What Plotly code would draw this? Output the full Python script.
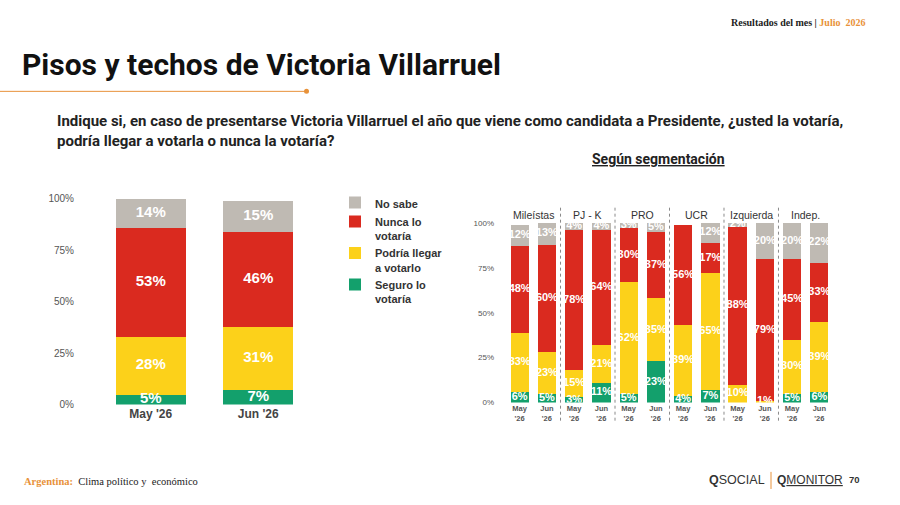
import plotly.graph_objects as go

# ---------------- DATA ----------------
left_cats = ["May '26", "Jun '26"]
left_seguro = [5, 7]
left_podria = [28, 31]
left_nunca = [53, 46]
left_nosabe = [14, 15]

segments = ["Mileístas", "PJ - K", "PRO", "UCR", "Izquierda", "Indep."]
months = ["May '26", "Jun '26"]
seg_seguro = [6, 5, 3, 11, 5, 23, 4, 7, 0, 0, 5, 6]
seg_podria = [33, 23, 15, 21, 62, 35, 39, 65, 10, 1, 30, 39]
seg_nunca = [48, 60, 78, 64, 30, 37, 56, 17, 88, 79, 45, 33]
seg_nosabe = [12, 13, 4, 4, 3, 5, 0, 12, 2, 20, 20, 22]

y_ticks = [0, 25, 50, 75, 100]
y_ticktext = ["0%", "25%", "50%", "75%", "100%"]

series_names = ["Seguro lo<br>votaría", "Podría llegar<br>a votarlo", "Nunca lo<br>votaría", "No sabe"]
colors = ["#13a06c", "#fcd11a", "#da2a1f", "#bfbab3"]

# ---------------- FIGURE ----------------
fig = go.Figure()
W, H = 900, 505
OFF, HE = 6.0, 493.0


def py(t):
    return 1 - (t - OFF) / HE


SANS = "Roboto, Liberation Sans, sans-serif"

left_series = [left_seguro, left_podria, left_nunca, left_nosabe]
for name, vals, col in zip(series_names, left_series, colors):
    fig.add_trace(go.Bar(x=left_cats, y=vals, name="<b>" + name + "</b>", marker=dict(color=col, line=dict(width=0)),
                         width=0.65, xaxis="x", yaxis="y", hoverinfo="skip"))

base = [0] * len(left_cats)
for vals in left_series:
    mids = [b + v / 2 for b, v in zip(base, vals)]
    fig.add_trace(go.Scatter(x=left_cats, y=mids, mode="text", text=[f"{v}%" for v in vals],
                             textfont=dict(color="white", size=15, family="Liberation Sans", weight="bold"),
                             showlegend=False, xaxis="x", yaxis="y", hoverinfo="skip"))
    base = [b + v for b, v in zip(base, vals)]

right_cats = [f"{s}|{m}" for s in segments for m in months]
right_ticktext = ["May<br>'26" if m.startswith("May") else "Jun<br>'26" for s in segments for m in months]
right_series = [seg_seguro, seg_podria, seg_nunca, seg_nosabe]
for name, vals, col in zip(series_names, right_series, colors):
    fig.add_trace(go.Bar(x=right_cats, y=vals, name=name, marker=dict(color=col, line=dict(width=0)),
                         width=0.67, xaxis="x2", yaxis="y2", showlegend=False, hoverinfo="skip"))

base = [0] * len(right_cats)
for vals, col in zip(right_series, colors):
    mids = [b + v / 2 for b, v in zip(base, vals)]
    fig.add_trace(go.Scatter(x=right_cats, y=mids, mode="text",
                             text=[f"{v}%" if v > 0 else "" for v in vals],
                             textfont=dict(color="white", size=11, family="Liberation Sans", weight="bold"),
                             showlegend=False, xaxis="x2", yaxis="y2", hoverinfo="skip"))
    base = [b + v for b, v in zip(base, vals)]

fig.update_layout(
    width=W, height=H, margin=dict(l=0, r=0, t=0, b=0),
    paper_bgcolor="white", plot_bgcolor="white",
    barmode="stack", bargap=0,
    font=dict(family="Liberation Sans", color="#333"),
    xaxis=dict(domain=[97 / W, 312 / W], showgrid=False, zeroline=False, showline=False, ticks="",
               tickfont=dict(size=12, color="#444", weight="bold"), anchor="y", fixedrange=True),
    yaxis=dict(domain=[py(404), py(199)], range=[0, 100], tickvals=y_ticks, ticktext=y_ticktext,
               showgrid=False, zeroline=False, showline=False, ticks="", ticklabelstandoff=22,
               tickfont=dict(size=10, color="#555"), anchor="x"),
    xaxis2=dict(domain=[503 / W, 836 / W], showgrid=False, zeroline=False, showline=False, ticks="",
                tickvals=right_cats, ticktext=right_ticktext, tickangle=0,
                tickfont=dict(size=7.5, color="#555", weight="bold"), anchor="y2"),
    yaxis2=dict(domain=[py(402), py(223)], range=[0, 100], tickvals=y_ticks, ticktext=y_ticktext,
                showgrid=False, zeroline=False, showline=False, ticks="", ticklabelstandoff=8,
                tickfont=dict(size=8, color="#555"), anchor="x2"),
    legend=dict(x=335 / W, y=py(189), xanchor="left", yanchor="top", traceorder="reversed",
                font=dict(size=11, color="#333", family="Liberation Sans"), valign="top",
                bgcolor="rgba(0,0,0,0)", itemclick=False, itemdoubleclick=False),
)

for i in range(1, len(segments)):
    fig.add_shape(type="line", xref="x2", yref="paper", x0=2 * i - 0.5, x1=2 * i - 0.5,
                  y0=py(420), y1=py(207), line=dict(color="#8a8a8a", width=1, dash="dot"))
for i, s in enumerate(segments):
    fig.add_annotation(x=2 * i + 0.5, xref="x2", y=py(215), yref="paper", text=s, showarrow=False,
                       font=dict(size=10.5, color="#333", family="Liberation Sans"))

fig.add_annotation(x=20 / W, y=py(65), xref="paper", yref="paper", xanchor="left", yanchor="middle",
                   text="<b>Pisos y techos de Victoria Villarruel</b>", showarrow=False,
                   font=dict(size=30, color="#111", family=SANS, weight=900))
fig.add_shape(type="line", xref="paper", yref="paper", x0=0, x1=306 / W, y0=py(92), y1=py(92),
              line=dict(color="#e8923a", width=1))
fig.add_shape(type="circle", xref="paper", yref="paper", x0=304 / W, x1=309 / W, y0=py(94.5), y1=py(89.5),
              line=dict(color="#e8923a", width=0), fillcolor="#e8923a")
fig.add_annotation(x=55 / W, y=py(111), xref="paper", yref="paper", xanchor="left", yanchor="top", align="left",
                   text="<b>Indique si, en caso de presentarse Victoria Villarruel el año que viene como candidata a Presidente, ¿usted la votaría,<br>podría llegar a votarla o nunca la votaría?</b>",
                   showarrow=False, font=dict(size=15, color="#222", family=SANS))
fig.add_annotation(x=658 / W, y=py(159), xref="paper", yref="paper", xanchor="center", yanchor="middle",
                   text="<b><u>Según segmentación</u></b>", showarrow=False,
                   font=dict(size=14, color="#222", family=SANS))
fig.add_annotation(x=867 / W, y=py(23), xref="paper", yref="paper", xanchor="right", yanchor="middle",
                   text="<b>Resultados del mes | </b><b><span style='color:#e8923a'>Julio  2026</span></b>",
                   showarrow=False, font=dict(size=10, color="#222", family="Liberation Serif"))
fig.add_annotation(x=22 / W, y=py(481), xref="paper", yref="paper", xanchor="left", yanchor="middle",
                   text="<b><span style='color:#e8923a'>Argentina:</span></b>  Clima político y  económico",
                   showarrow=False, font=dict(size=10.5, color="#222", family="Liberation Serif"))
fig.add_annotation(x=767 / W, y=py(479), xref="paper", yref="paper", xanchor="right", yanchor="middle",
                   text="<b>Q</b>SOCIAL", showarrow=False,
                   font=dict(size=12.5, color="#333", family="Liberation Sans"))
fig.add_shape(type="line", xref="paper", yref="paper", x0=771 / W, x1=771 / W, y0=py(488), y1=py(471),
              line=dict(color="#e8923a", width=1))
fig.add_annotation(x=775 / W, y=py(479), xref="paper", yref="paper", xanchor="left", yanchor="middle",
                   text="<b>Q</b><u>MONITOR</u>", showarrow=False,
                   font=dict(size=12, color="#333", family="Liberation Sans"))
fig.add_annotation(x=847 / W, y=py(479), xref="paper", yref="paper", xanchor="left", yanchor="middle",
                   text="<b>70</b>", showarrow=False,
                   font=dict(size=9.5, color="#333", family="Liberation Sans"))

fig.write_html("out.html", config={"displayModeBar": False})
